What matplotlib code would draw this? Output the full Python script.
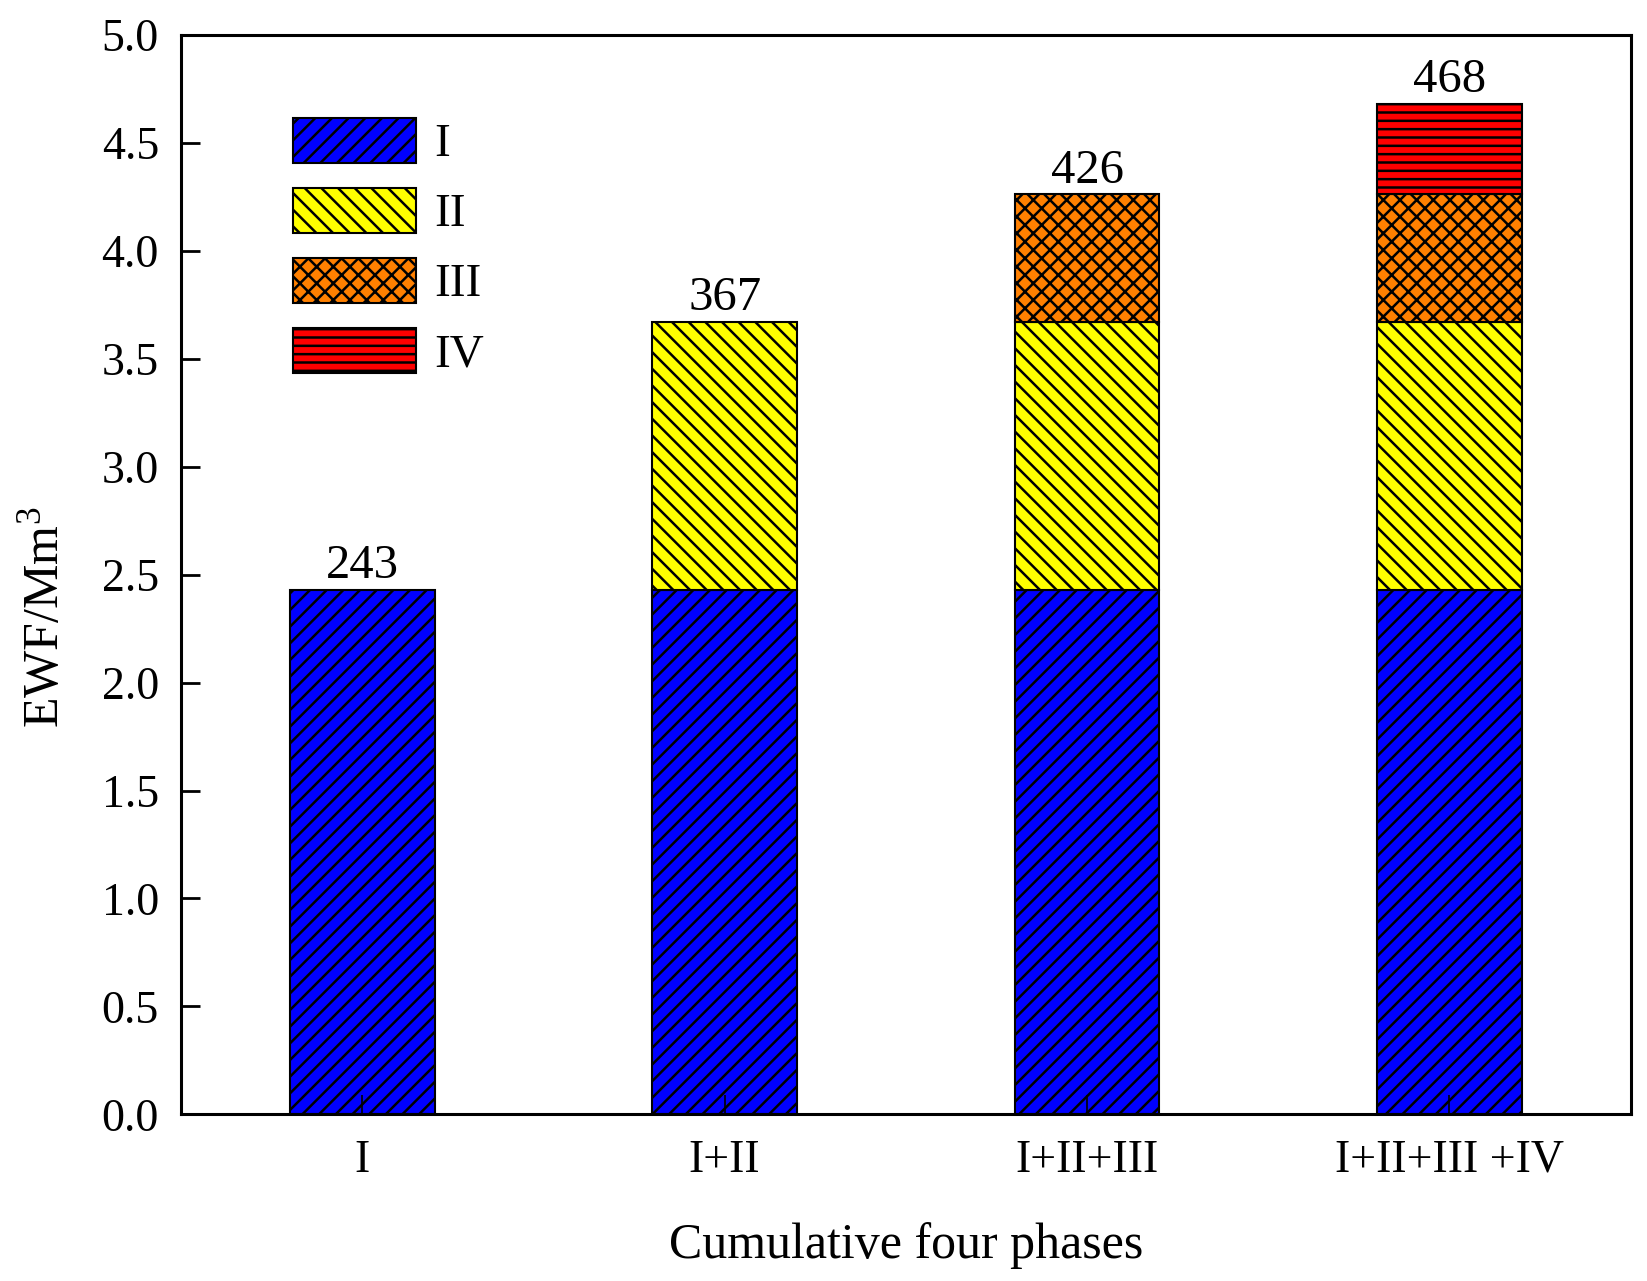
import matplotlib
matplotlib.use('Agg')
import matplotlib.pyplot as plt
from matplotlib.patches import Patch
from matplotlib.ticker import FormatStrFormatter, MultipleLocator
import numpy as np

plt.rcParams['font.family'] = ['Liberation Serif', 'DejaVu Serif']
plt.rcParams['mathtext.default'] = 'regular'
plt.rcParams['hatch.linewidth'] = 1.8

# dados
categorias = ['I', 'I+II', 'I+II+III', 'I+II+III +IV']
fases = ['I', 'II', 'III', 'IV']
fase_I = [2.43, 2.43, 2.43, 2.43]
fase_II = [0.0, 1.24, 1.24, 1.24]
fase_III = [0.0, 0.0, 0.59, 0.59]
fase_IV = [0.0, 0.0, 0.0, 0.42]

cores = ['#0000FF', '#FFFF00', '#FF8000', '#FF0000']
hachuras = ['//', '\\\\', 'xx', '--']

fig = plt.figure(figsize=(16.47, 12.81), dpi=100)
ax = fig.add_axes([0.110, 0.130, 0.880, 0.843])

x = np.arange(len(categorias))
largura = 0.4
base = np.zeros(len(categorias))
for serie, cor, hach in zip([fase_I, fase_II, fase_III, fase_IV], cores, hachuras):
    v = np.array(serie)
    m = v > 0
    ax.bar(x[m], v[m], largura, bottom=base[m], color=cor, edgecolor='black',
           linewidth=1.5, hatch=hach, zorder=2)
    base = base + v

# rotulos dos totais
for xi, tot in zip(x, base):
    ax.annotate(f'{tot*100:.0f}', (xi, tot), xytext=(0, 1), textcoords='offset points',
                ha='center', va='bottom', fontsize=35)

ax.set_axisbelow(False)
ax.set_xlim(-0.5, 3.5)
ax.set_ylim(0, 5.0)
ax.yaxis.set_major_locator(MultipleLocator(0.5))
ax.yaxis.set_major_formatter(FormatStrFormatter('%.1f'))
ax.set_xticks(x)
ax.set_xticklabels(categorias)
ax.tick_params(axis='both', direction='in', length=14, width=2, labelsize=33)
ax.tick_params(axis='x', pad=18, width=1.2)
ax.tick_params(axis='y', pad=16)
for s in ax.spines.values():
    s.set_linewidth(2.2)

ax.set_ylabel('EWF/Mm$^3$', fontsize=36)
ax.yaxis.set_label_coords(-0.077, 0.46)
ax.set_xlabel('Cumulative four phases', fontsize=36)
ax.xaxis.set_label_coords(0.50, -0.100)

handles = [Patch(facecolor=c, edgecolor='black', hatch=h, linewidth=1.5) for c, h in zip(cores, hachuras)]
ax.legend(handles, fases, loc='upper left', bbox_to_anchor=(0.077, 0.923), frameon=False,
          fontsize=34, handlelength=2.6, handleheight=1.1, labelspacing=0.45,
          handletextpad=0.4, borderpad=0, borderaxespad=0)

plt.savefig('out.png', dpi=100)
